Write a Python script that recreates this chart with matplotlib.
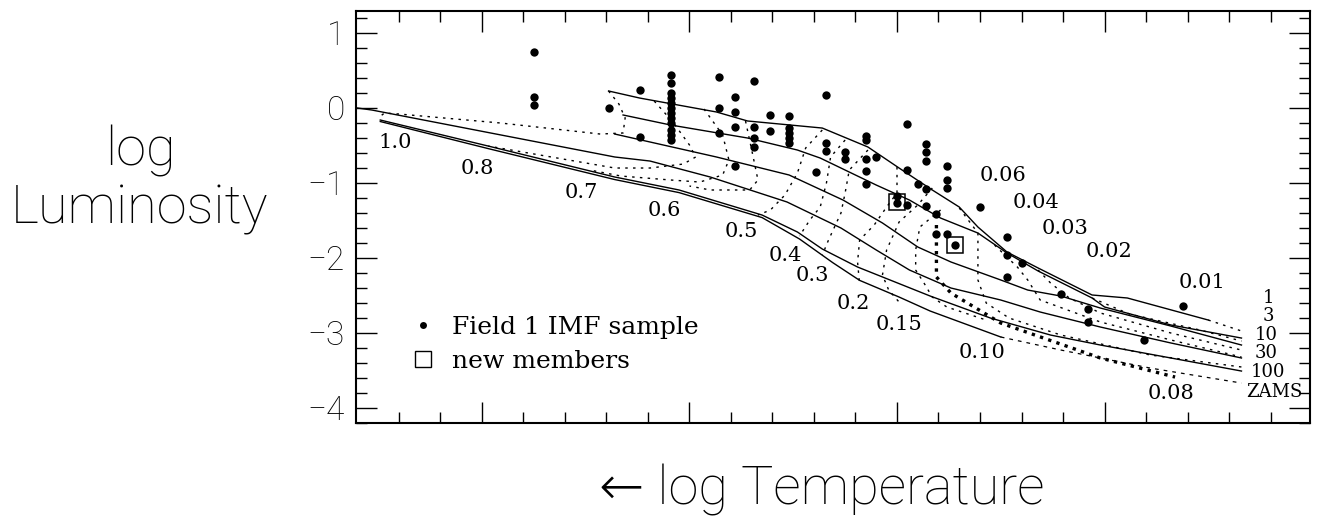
import numpy as np
import matplotlib
matplotlib.use('Agg')
import matplotlib.pyplot as plt
from matplotlib.lines import Line2D

# ---- isochrones (log Teff, log L) ----
iso1_t = [3.639, 3.624, 3.587, 3.572, 3.536, 3.514, 3.499, 3.483, 3.470, 3.461, 3.447, 3.432, 3.406, 3.389, 3.350]
iso1_l = [0.223, 0.129, -0.057, -0.177, -0.271, -0.524, -0.804, -1.097, -1.324, -1.591, -1.924, -2.137, -2.497, -2.537, -2.831]

iso3_t = [3.632, 3.609, 3.572, 3.548, 3.537, 3.510, 3.494, 3.479, 3.461, 3.447, 3.432, 3.406, 3.400, 3.368, 3.334]
iso3_l = [-0.097, -0.231, -0.404, -0.564, -0.671, -1.031, -1.231, -1.471, -1.671, -1.937, -2.177, -2.537, -2.657, -2.897, -3.071]

iso10_t = [3.636, 3.587, 3.552, 3.526, 3.507, 3.490, 3.474, 3.450, 3.437, 3.421, 3.402, 3.368, 3.334]
iso10_l = [-0.351, -0.657, -0.897, -1.231, -1.537, -1.857, -2.057, -2.297, -2.431, -2.511, -2.671, -2.911, -3.164]

iso30_t = [3.760, 3.753, 3.636, 3.619, 3.590, 3.553, 3.527, 3.510, 3.494, 3.474, 3.450, 3.431, 3.402, 3.368, 3.334]
iso30_l = [-0.004, -0.031, -0.657, -0.711, -0.924, -1.257, -1.604, -1.897, -2.164, -2.404, -2.564, -2.724, -2.924, -3.137, -3.337]

iso100_t = [3.749, 3.697, 3.636, 3.605, 3.565, 3.548, 3.536, 3.519, 3.484, 3.455, 3.426, 3.402, 3.368, 3.334]
iso100_l = [-0.164, -0.511, -0.924, -1.097, -1.431, -1.657, -1.884, -2.124, -2.511, -2.804, -3.031, -3.164, -3.337, -3.511]

zams_t = [3.749, 3.697, 3.636, 3.605, 3.565, 3.547, 3.531, 3.518, 3.499, 3.484, 3.450]
zams_l = [-0.184, -0.545, -0.958, -1.132, -1.465, -1.750, -2.065, -2.302, -2.524, -2.711, -3.057]
zams_bd_t = [3.450, 3.421, 3.378, 3.334]
zams_bd_l = [-3.057, -3.231, -3.471, -3.671]

# ---- mass tracks ----
tracks = {
    '1.0':  ([3.639, 3.634, 3.631, 3.632, 3.643, 3.691, 3.740, 3.747, 3.750],
             [0.223, 0.049, -0.137, -0.337, -0.351, -0.204, -0.084, -0.071, -0.137]),
    '0.8':  ([3.617, 3.608, 3.600, 3.597, 3.603, 3.619, 3.636, 3.697],
             [0.089, -0.191, -0.497, -0.657, -0.751, -0.804, -0.804, -0.511]),
    '0.7':  ([3.593, 3.584, 3.581, 3.584, 3.595, 3.609, 3.633, 3.648],
             [-0.017, -0.364, -0.697, -0.897, -0.991, -0.964, -0.911, -0.831]),
    '0.6':  ([3.573, 3.570, 3.567, 3.571, 3.590, 3.600],
             [-0.177, -0.564, -0.964, -1.097, -1.097, -1.044]),
    '0.5':  ([3.536, 3.544, 3.548, 3.554, 3.561, 3.567],
             [-0.297, -0.537, -0.871, -1.164, -1.364, -1.431]),
    '0.4':  ([3.525, 3.532, 3.534, 3.537, 3.542, 3.547],
             [-0.431, -0.657, -1.004, -1.324, -1.497, -1.711]),
    '0.3':  ([3.514, 3.523, 3.525, 3.527, 3.533, 3.536],
             [-0.564, -0.831, -1.137, -1.404, -1.764, -1.964]),
    '0.2':  ([3.500, 3.500, 3.505, 3.511, 3.518, 3.519, 3.518],
             [-0.791, -1.137, -1.324, -1.564, -1.764, -2.057, -2.364]),
    '0.15': ([3.483, 3.490, 3.499, 3.505, 3.507, 3.504, 3.499],
             [-1.071, -1.297, -1.524, -1.897, -2.231, -2.431, -2.591]),
    '0.10': ([3.479, 3.489, 3.491, 3.491, 3.487, 3.483, 3.476, 3.457],
             [-1.364, -1.591, -1.897, -2.164, -2.337, -2.524, -2.657, -2.831]),
    '0.06': ([3.470, 3.461, 3.461, 3.457, 3.446, 3.421, 3.378, 3.334],
             [-1.337, -1.671, -2.297, -2.604, -2.804, -3.031, -3.297, -3.457]),
    '0.04': ([3.453, 3.447, 3.442, 3.437, 3.431, 3.402, 3.368, 3.334],
             [-1.831, -1.991, -2.124, -2.297, -2.564, -2.857, -3.097, -3.324]),
    '0.03': ([3.432, 3.426, 3.417, 3.402, 3.368, 3.334],
             [-2.164, -2.337, -2.537, -2.737, -3.004, -3.231]),
    '0.02': ([3.406, 3.388, 3.354, 3.334],
             [-2.537, -2.751, -2.964, -3.111]),
    '0.01': ([3.350, 3.334],
             [-2.831, -2.977]),
}
track008_t = [3.481, 3.481, 3.481, 3.474, 3.450, 3.402, 3.366]
track008_l = [-1.564, -2.031, -2.257, -2.471, -2.871, -3.337, -3.591]

# mass labels (position in log T, log L)
mass_lab = ['1.0', '0.8', '0.7', '0.6', '0.5', '0.4', '0.3', '0.2', '0.15', '0.10', '0.08',
            '0.06', '0.04', '0.03', '0.02', '0.01']
mass_lab_t = [3.742, 3.702, 3.652, 3.612, 3.575, 3.554, 3.541, 3.521, 3.499, 3.459, 3.368,
              3.449, 3.433, 3.419, 3.398, 3.353]
mass_lab_l = [-0.46, -0.805, -1.124, -1.364, -1.657, -1.964, -2.231, -2.604, -2.897, -3.27, -3.817,
              -0.90, -1.264, -1.604, -1.911, -2.324]

age_lab = ['1', '3', '10', '30', '100', 'ZAMS']
age_lab_t = [3.321, 3.321, 3.322, 3.322, 3.321, 3.318]
age_lab_l = [-2.537, -2.777, -3.031, -3.271, -3.524, -3.791]

# ---- Field 1 IMF sample ----
star_t = [3.675, 3.675, 3.675, 3.639, 3.624, 3.624,
          3.609, 3.609, 3.609, 3.609, 3.609, 3.609, 3.609, 3.609, 3.609, 3.609, 3.609, 3.609,
          3.586, 3.586, 3.586, 3.578, 3.578, 3.578, 3.578,
          3.569, 3.569, 3.569, 3.569, 3.561, 3.561,
          3.552, 3.552, 3.552, 3.552, 3.552,
          3.534, 3.534, 3.534, 3.539, 3.525, 3.525,
          3.515, 3.515, 3.515, 3.515, 3.515, 3.510,
          3.495, 3.495, 3.495, 3.486, 3.486, 3.486, 3.486, 3.486, 3.490,
          3.481, 3.481, 3.476, 3.476, 3.476, 3.476, 3.460,
          3.500, 3.500, 3.472,
          3.447, 3.447, 3.440, 3.447, 3.421, 3.408, 3.408, 3.381, 3.362]
star_l = [0.743, 0.143, 0.036, -0.004, 0.236, -0.391,
          0.436, 0.329, 0.196, 0.129, 0.063, -0.004, -0.071, -0.137, -0.204, -0.297, -0.364, -0.431,
          0.409, -0.004, -0.337, 0.143, -0.057, -0.257, -0.777,
          0.356, -0.257, -0.404, -0.524, -0.097, -0.311,
          -0.111, -0.271, -0.337, -0.404, -0.471,
          0.169, -0.471, -0.577, -0.857, -0.591, -0.684,
          -0.377, -0.431, -0.684, -0.844, -1.017, -0.657,
          -0.217, -0.831, -1.297, -0.484, -0.591, -0.711, -1.084, -1.311, -1.017,
          -1.417, -1.684, -0.777, -0.964, -1.071, -1.684, -1.324,
          -1.177, -1.271, -1.831,
          -1.724, -1.964, -2.071, -2.257, -2.484, -2.684, -2.857, -3.097, -2.644]

new_t = [3.500, 3.472]
new_l = [-1.259, -1.831]

sans = ['Roboto', 'DejaVu Sans']
serif = 'DejaVu Serif'

# ---- plot ----
fig = plt.figure(figsize=(13.18, 5.29), dpi=100)
ax = fig.add_axes([0.2701, 0.2009, 0.7238, 0.7788])

iso_kw = dict(color='k', lw=1.0)
for t, l in [(iso1_t, iso1_l), (iso3_t, iso3_l), (iso10_t, iso10_l),
             (iso30_t, iso30_l), (iso100_t, iso100_l), (zams_t, zams_l)]:
    ax.plot(t, l, **iso_kw)
ax.plot(zams_bd_t, zams_bd_l, color='k', lw=0.9, ls=(0, (3, 4)))

for name, (t, l) in tracks.items():
    ax.plot(t, l, color='k', lw=1.0, ls=(0, (1.8, 3.8)))
ax.plot(track008_t, track008_l, color='k', lw=2.4, ls=(0, (1.0, 1.6)))

ax.plot(star_t, star_l, 'o', color='k', ms=6, mew=0)
ax.plot(new_t, new_l, 's', mfc='none', mec='k', ms=12, mew=1.1)

for s, t, l in zip(mass_lab, mass_lab_t, mass_lab_l):
    ax.text(t, l, s, fontsize=15, family=serif, ha='center', va='center')
for s, t, l in zip(age_lab, age_lab_t, age_lab_l):
    ax.text(t, l, s, fontsize=13, family=serif, ha='center', va='center')

handles = [Line2D([], [], ls='none', marker='o', color='k', ms=5, mew=0),
           Line2D([], [], ls='none', marker='s', mfc='none', mec='k', ms=12, mew=1.0)]
ax.legend(handles, ['Field 1 IMF sample', 'new members'], loc='center left',
          bbox_to_anchor=(0.034, 0.19), frameon=False, handlelength=1.0,
          handletextpad=0.65, labelspacing=0.42, prop={'family': serif, 'size': 18})

ax.set_xlim(3.7607, 3.301)
ax.set_ylim(-4.2, 1.293)
ax.set_xticks(np.arange(3.4, 3.75, 0.1))
ax.set_xticks(np.arange(3.32, 3.76, 0.02), minor=True)
ax.set_yticks([-4, -3, -2, -1, 0, 1])
ax.set_yticks(np.arange(-4.2, 1.3, 0.2), minor=True)
ax.tick_params(which='both', direction='in', top=True, right=True, width=1.0)
ax.tick_params(which='major', length=15)
ax.tick_params(which='minor', length=8)
ax.tick_params(axis='x', labelbottom=False)
ax.tick_params(axis='y', labelsize=24, pad=8)
for lab in ax.get_yticklabels():
    lab.set_family(sans)
    lab.set_weight('light')
for sp in ax.spines.values():
    sp.set_linewidth(1.5)

fig.text(140 / 1318, 1 - 180 / 529, 'log\nLuminosity', ha='center', va='center',
         fontsize=39, family=sans, weight='light', linespacing=1.15)
fig.text(822 / 1318, 1 - 490 / 529, '\u2190 log Temperature', ha='center', va='center',
         fontsize=39, family=sans, weight='light')

fig.savefig('out.png', dpi=100)
